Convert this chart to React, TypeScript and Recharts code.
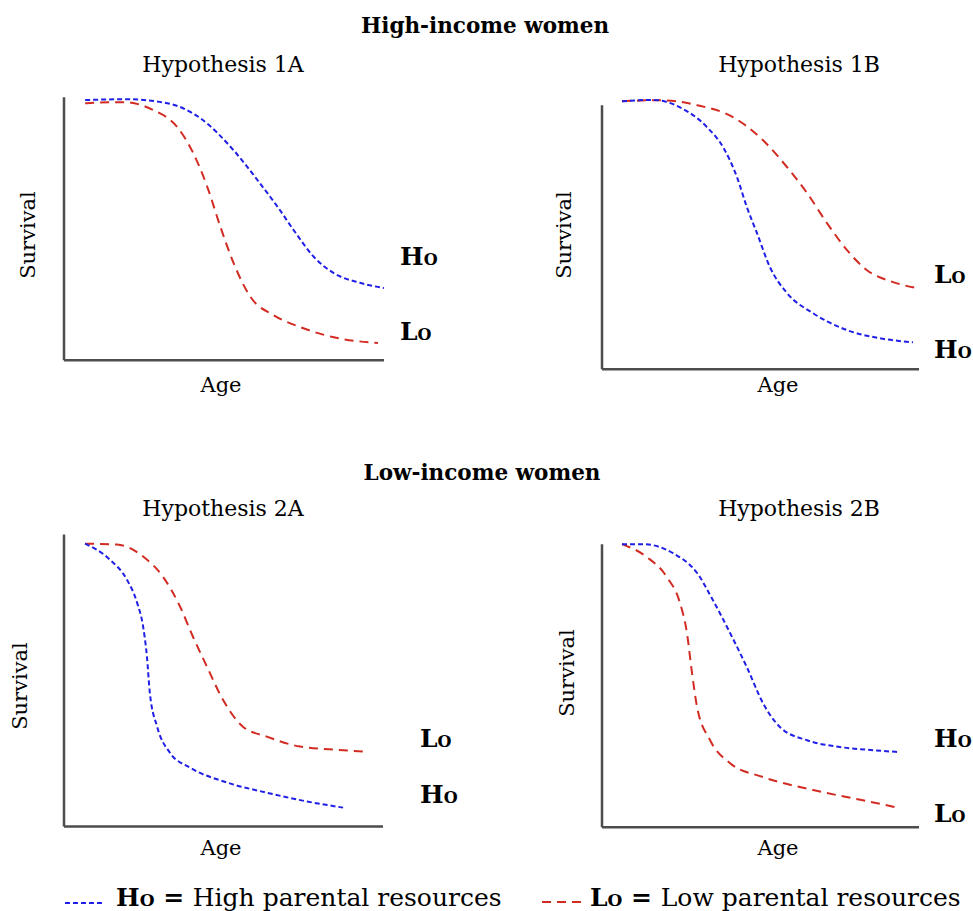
import React from 'react';
import { LineChart, Line, XAxis, YAxis, ReferenceLine } from 'recharts';

// Age (0-100 along x axis) and survival (0-100 = top of y axis)
const hyp1aHighAge = [6.6, 19.7, 32.3, 42.6, 53.0, 60.5, 66.8, 71.8, 78.1, 84.3, 92.8, 100];
const hyp1aHighSurv = [98.9, 99.2, 97.7, 92.0, 79.8, 68.4, 58.2, 49.4, 39.2, 33.1, 29.3, 27.4];
const hyp1aLowAge = [6.6, 18.5, 27.9, 35.4, 40.4, 44.8, 48.9, 53.0, 58.3, 65.5, 74.0, 84.3, 98.1];
const hyp1aLowSurv = [97.7, 98.1, 95.1, 88.6, 78.7, 65.8, 50.6, 36.9, 24.0, 17.1, 12.5, 8.7, 6.5];

const hyp1bHighAge = [6.3, 16.1, 24.6, 33.1, 38.2, 42.6, 45.7, 48.9, 53.0, 58.4, 66.6, 77.3, 87.7, 98.1];
const hyp1bHighSurv = [101.5, 102.0, 99.2, 91.7, 84.1, 72.7, 61.4, 51.5, 38.6, 28.8, 21.2, 14.8, 11.7, 10.2];
const hyp1bLowAge = [6.3, 18.3, 30.0, 41.3, 50.8, 58.4, 64.7, 71.0, 77.3, 83.6, 91.8, 99.4];
const hyp1bLowSurv = [101.5, 101.9, 100, 95.5, 86.7, 76.5, 66.7, 55.3, 45.1, 37.5, 33.0, 30.7];

const hyp2aHighAge = [6.6, 14.4, 19.7, 22.9, 24.8, 26.0, 26.9, 29.2, 33.2, 39.5, 51.1, 63.6, 76.2, 87.5];
const hyp2aHighSurv = [96.9, 91.4, 84.6, 76.7, 68.5, 58.2, 45.9, 34.2, 25.3, 20.2, 15.1, 11.6, 8.6, 6.5];
const hyp2aLowAge = [6.6, 16.6, 24.8, 31.0, 36.4, 40.4, 44.8, 49.8, 56.1, 63.6, 74.0, 84.3, 93.7];
const hyp2aLowSurv = [96.9, 96.6, 92.5, 85.6, 75.3, 65.1, 54.8, 43.5, 34.2, 30.8, 27.4, 26.4, 25.7];

const hyp2bHighAge = [6.3, 12.9, 22.4, 30.0, 35.0, 40.4, 45.7, 50.8, 56.2, 64.7, 75.1, 85.5, 94.0];
const hyp2bHighSurv = [100, 100, 96.8, 89.8, 80.2, 68.6, 56.5, 43.8, 35.3, 30.7, 28.3, 27.2, 26.5];
const hyp2bLowAge = [6.3, 14.2, 20.5, 24.6, 26.8, 28.4, 30.0, 34.1, 40.4, 50.8, 66.6, 82.3, 92.4];
const hyp2bLowSurv = [100, 95.4, 88.3, 79.2, 68.6, 54.4, 42.4, 30.7, 22.6, 17.7, 13.1, 9.5, 7.1];

const FONT = '"DejaVu Serif", serif';
const BLUE = '#1f1fe6';
const RED = '#d22b22';
const AXIS = '#4d4d4d';
const BLUE_DASH = '5 3';
const RED_DASH = '9 6';

const toPoints = (xs: number[], ys: number[]) => xs.map((x, i) => ({ x, y: ys[i] }));

interface PanelProps {
  x0: number;
  x1: number;
  yTop: number;
  yBottom: number;
  high: { x: number; y: number }[];
  low: { x: number; y: number }[];
}

const Y_MAX = 105;
const PAD = 4;

function Panel({ x0, x1, yTop, yBottom, high, low }: PanelProps) {
  const plotW = x1 - x0;
  const plotH = (yBottom - yTop) * (Y_MAX / 100);
  return (
    <div style={{ position: 'absolute', left: x0 - PAD, top: yBottom - plotH }}>
      <LineChart
        width={plotW + PAD * 2}
        height={plotH + PAD}
        margin={{ top: 0, right: PAD, bottom: PAD, left: PAD }}
      >
        <XAxis type="number" dataKey="x" domain={[0, 100]} hide />
        <YAxis type="number" dataKey="y" domain={[0, Y_MAX]} hide />
        <ReferenceLine
          segment={[{ x: 0, y: 0 }, { x: 100, y: 0 }]}
          stroke={AXIS}
          strokeWidth={2.5}
          ifOverflow="visible"
        />
        <ReferenceLine
          segment={[{ x: 0, y: 0 }, { x: 0, y: 100 }]}
          stroke={AXIS}
          strokeWidth={2.5}
          ifOverflow="visible"
        />
        <Line
          data={low}
          dataKey="y"
          type="monotone"
          stroke={RED}
          strokeWidth={2}
          strokeDasharray={RED_DASH}
          dot={false}
          isAnimationActive={false}
        />
        <Line
          data={high}
          dataKey="y"
          type="monotone"
          stroke={BLUE}
          strokeWidth={2}
          strokeDasharray={BLUE_DASH}
          dot={false}
          isAnimationActive={false}
        />
      </LineChart>
    </div>
  );
}

function Mark({ x, y, letter }: { x: number; y: number; letter: string }) {
  return (
    <text x={x} y={y} fontFamily={FONT} fontWeight="bold" fontSize={25} fill="#000">
      {letter}
      <tspan fontSize={16}>O</tspan>
    </text>
  );
}

export default function App() {
  const hypStyle = { fontFamily: FONT, fontSize: 22, fill: '#000' };
  const axisStyle = { fontFamily: FONT, fontSize: 21, fill: '#000' };
  return (
    <div
      style={{
        position: 'absolute',
        left: 0,
        top: 0,
        width: 973,
        height: 911,
        background: '#fff',
      }}
    >
      <Panel
        x0={64}
        x1={384}
        yTop={97}
        yBottom={360}
        high={toPoints(hyp1aHighAge, hyp1aHighSurv)}
        low={toPoints(hyp1aLowAge, hyp1aLowSurv)}
      />
      <Panel
        x0={602}
        x1={919}
        yTop={105}
        yBottom={369}
        high={toPoints(hyp1bHighAge, hyp1bHighSurv)}
        low={toPoints(hyp1bLowAge, hyp1bLowSurv)}
      />
      <Panel
        x0={64}
        x1={383}
        yTop={535}
        yBottom={827}
        high={toPoints(hyp2aHighAge, hyp2aHighSurv)}
        low={toPoints(hyp2aLowAge, hyp2aLowSurv)}
      />
      <Panel
        x0={602}
        x1={919}
        yTop={544}
        yBottom={827}
        high={toPoints(hyp2bHighAge, hyp2bHighSurv)}
        low={toPoints(hyp2bLowAge, hyp2bLowSurv)}
      />

      <svg
        width={973}
        height={911}
        style={{ position: 'absolute', left: 0, top: 0, pointerEvents: 'none' }}
      >
        <text x={485} y={33} textAnchor="middle" fontFamily={FONT} fontWeight="bold" fontSize={21.5}>
          High-income women
        </text>
        <text x={482} y={480} textAnchor="middle" fontFamily={FONT} fontWeight="bold" fontSize={21.5}>
          Low-income women
        </text>

        <text x={223} y={72} textAnchor="middle" style={hypStyle}>Hypothesis 1A</text>
        <text x={799} y={72} textAnchor="middle" style={hypStyle}>Hypothesis 1B</text>
        <text x={223} y={516} textAnchor="middle" style={hypStyle}>Hypothesis 2A</text>
        <text x={799} y={516} textAnchor="middle" style={hypStyle}>Hypothesis 2B</text>

        <text x={221} y={392} textAnchor="middle" style={axisStyle}>Age</text>
        <text x={778} y={392} textAnchor="middle" style={axisStyle}>Age</text>
        <text x={221} y={855} textAnchor="middle" style={axisStyle}>Age</text>
        <text x={778} y={855} textAnchor="middle" style={axisStyle}>Age</text>

        <text transform="translate(35,235) rotate(-90)" textAnchor="middle" style={axisStyle}>Survival</text>
        <text transform="translate(571,235) rotate(-90)" textAnchor="middle" style={axisStyle}>Survival</text>
        <text transform="translate(27,686) rotate(-90)" textAnchor="middle" style={axisStyle}>Survival</text>
        <text transform="translate(574,673) rotate(-90)" textAnchor="middle" style={axisStyle}>Survival</text>

        <Mark x={400} y={265} letter="H" />
        <Mark x={400} y={340} letter="L" />
        <Mark x={934} y={283} letter="L" />
        <Mark x={934} y={358} letter="H" />
        <Mark x={420} y={747} letter="L" />
        <Mark x={420} y={803} letter="H" />
        <Mark x={934} y={747} letter="H" />
        <Mark x={934} y={822} letter="L" />

        <line x1={65} y1={903} x2={105} y2={903} stroke={BLUE} strokeWidth={2} strokeDasharray={BLUE_DASH} />
        <text x={116} y={906} fontFamily={FONT} fontSize={25}>
          <tspan fontWeight="bold">H</tspan>
          <tspan fontWeight="bold" fontSize={17}>O</tspan>
          <tspan fontWeight="bold"> = </tspan>
          High parental resources
        </text>
        <line x1={542} y1={902} x2={582} y2={902} stroke={RED} strokeWidth={2} strokeDasharray={RED_DASH} />
        <text x={590} y={906} fontFamily={FONT} fontSize={25}>
          <tspan fontWeight="bold">L</tspan>
          <tspan fontWeight="bold" fontSize={17}>O</tspan>
          <tspan fontWeight="bold"> = </tspan>
          Low parental resources
        </text>
      </svg>
    </div>
  );
}
